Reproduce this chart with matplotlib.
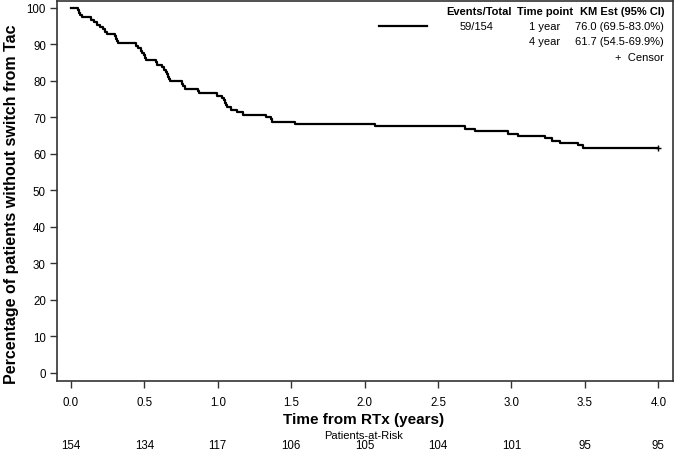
import numpy as np
import matplotlib
matplotlib.use("Agg")
import matplotlib.pyplot as plt
from matplotlib.lines import Line2D
from matplotlib.transforms import blended_transform_factory

plt.rcParams['font.family'] = ['Liberation Sans', 'DejaVu Sans']

# Kaplan-Meier steps (time in years, % without switch)
event_times = [0.046, 0.055, 0.065, 0.073, 0.137, 0.158, 0.178, 0.199, 0.215, 0.233,
               0.245, 0.300, 0.305, 0.312, 0.320, 0.445, 0.460, 0.475, 0.485, 0.495,
               0.503, 0.512, 0.578, 0.587, 0.620, 0.632, 0.645, 0.655, 0.662, 0.668,
               0.676, 0.755, 0.762, 0.780, 0.862, 0.870, 0.995, 1.028, 1.045, 1.052,
               1.058, 1.065, 1.088, 1.130, 1.170, 1.325, 1.360, 1.372, 1.525, 2.073,
               2.685, 2.755, 2.975, 3.047, 3.230, 3.278, 3.330, 3.455, 3.490]
survival = [99.35, 98.70, 98.05, 97.40, 96.75, 96.10, 95.45, 94.81, 94.16, 93.51,
            92.86, 92.21, 91.56, 90.91, 90.26, 89.61, 88.96, 88.31, 87.66, 87.01,
            86.36, 85.71, 85.06, 84.42, 83.77, 83.12, 82.47, 81.82, 81.17, 80.52,
            79.87, 79.22, 78.57, 77.92, 77.27, 76.62, 75.97, 75.32, 74.68, 74.03,
            73.38, 72.73, 72.08, 71.43, 70.78, 70.13, 69.48, 68.83, 68.18, 67.53,
            66.88, 66.23, 65.58, 64.94, 64.29, 63.64, 62.99, 62.34, 61.69]
censor_time = 4.0
censor_value = 61.69

risk_times = [0.0, 0.5, 1.0, 1.5, 2.0, 2.5, 3.0, 3.5, 4.0]
at_risk = [154, 134, 117, 106, 105, 104, 101, 95, 95]

x_ticks = [0.0, 0.5, 1.0, 1.5, 2.0, 2.5, 3.0, 3.5, 4.0]
y_ticks = [0, 10, 20, 30, 40, 50, 60, 70, 80, 90, 100]

legend_header = ['Events/Total', 'Time point', 'KM Est (95% CI)']
events_total = '59/154'
time_points = ['1 year', '4 year']
km_estimates = ['76.0 (69.5-83.0%)', '61.7 (54.5-69.9%)']

W, H = 675, 452
fig = plt.figure(figsize=(W / 100, H / 100), dpi=100)


def fx(px):
    return px / W


def fy(py):
    return 1 - py / H


ax = fig.add_axes([fx(57), fy(382), fx(673) - fx(57), fy(2) - fy(382)])

xs = np.concatenate([[0.0], event_times, [censor_time]])
ys = np.concatenate([[100.0], survival, [survival[-1]]])
ax.step(xs, ys, where='post', color='black', lw=1.6)
ax.plot([censor_time], [censor_value], marker='+', color='black', ms=5, mew=1.0)

ax.set_xlim(-0.095, 4.10)
ax.set_ylim(-2.2, 101.9)
ax.set_xticks(x_ticks)
ax.set_xticklabels([f'{t:.1f}' for t in x_ticks])
ax.set_yticks(y_ticks)
ax.tick_params(axis='both', direction='out', length=5, width=1.0,
               labelsize=8.3, color='#333333')
ax.tick_params(axis='x', pad=6)
ax.tick_params(axis='y', pad=3)
for s in ax.spines.values():
    s.set_linewidth(1.2)
    s.set_color('#333333')

fig.text(fx(12), fy(204), 'Percentage of patients without switch from Tac',
         fontsize=11.5, fontweight='bold', rotation=90,
         ha='center', va='center')

fig.text(fx(364), fy(420), 'Time from RTx (years)', fontsize=11,
         fontweight='bold', ha='center', va='center')
fig.text(fx(364), fy(436), 'Patients-at-Risk', fontsize=8,
         ha='center', va='center')

trans = blended_transform_factory(ax.transData, fig.transFigure)
for t, n in zip(risk_times, at_risk):
    ax.text(t, fy(446), str(n), transform=trans, fontsize=8.3,
            ha='center', va='center', clip_on=False)

# legend table
fs = 8
hdr_y = fy(12)
fig.text(fx(479), hdr_y, legend_header[0], fontsize=fs, fontweight='bold',
         ha='center', va='center')
fig.text(fx(545), hdr_y, legend_header[1], fontsize=fs, fontweight='bold',
         ha='center', va='center')
fig.text(fx(664), hdr_y, legend_header[2], fontsize=fs, fontweight='bold',
         ha='right', va='center')

fig.add_artist(Line2D([fx(379), fx(427)], [fy(27), fy(27)], color='black',
                      lw=1.6, transform=fig.transFigure))
fig.text(fx(477), fy(27), events_total, fontsize=fs, ha='center', va='center')
for i, (tp, km) in enumerate(zip(time_points, km_estimates)):
    yy = fy(27 + 15 * i)
    fig.text(fx(560), yy, tp, fontsize=fs, ha='right', va='center')
    fig.text(fx(664), yy, km, fontsize=fs, ha='right', va='center')
fig.text(fx(664), fy(58), '+  Censor', fontsize=fs, ha='right', va='center')

fig.savefig('out.png', dpi=100)
